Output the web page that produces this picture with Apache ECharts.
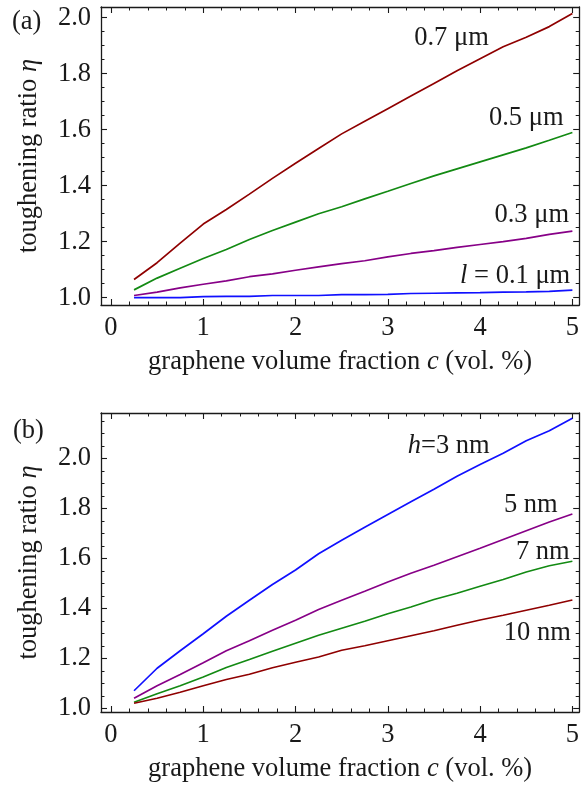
<!DOCTYPE html>
<html>
<head>
<meta charset="utf-8">
<script src="https://cdn.jsdelivr.net/npm/echarts@6/dist/echarts.min.js"></script>
<style>
html,body{margin:0;padding:0;background:#fff;}
#chart{width:582px;height:789px;}
</style>
</head>
<body>
<div id="chart"></div>
<script>
// ---------- data ----------
const cValues = [0.25, 0.5, 0.75, 1.0, 1.25, 1.5, 1.75, 2.0, 2.25, 2.5, 2.75, 3.0, 3.25, 3.5, 3.75, 4.0, 4.25, 4.5, 4.75, 5.0];

// panel (a): different platelet length l
const etaL07 = [1.065, 1.125, 1.195, 1.263, 1.315, 1.370, 1.426, 1.480, 1.533, 1.585, 1.630, 1.675, 1.720, 1.765, 1.810, 1.853, 1.896, 1.930, 1.968, 2.015];
const etaL05 = [1.028, 1.070, 1.105, 1.140, 1.172, 1.208, 1.240, 1.270, 1.300, 1.325, 1.353, 1.380, 1.408, 1.435, 1.460, 1.485, 1.510, 1.535, 1.562, 1.590];
const etaL03 = [1.008, 1.020, 1.035, 1.048, 1.060, 1.075, 1.085, 1.098, 1.110, 1.122, 1.132, 1.146, 1.158, 1.168, 1.180, 1.190, 1.200, 1.212, 1.226, 1.238];
const etaL01 = [1.000, 1.000, 1.000, 1.004, 1.005, 1.005, 1.008, 1.008, 1.008, 1.011, 1.011, 1.012, 1.015, 1.016, 1.017, 1.018, 1.020, 1.021, 1.023, 1.027];

// panel (b): different thickness h
const etaH3  = [1.070, 1.160, 1.230, 1.298, 1.368, 1.432, 1.495, 1.553, 1.618, 1.672, 1.724, 1.775, 1.826, 1.876, 1.928, 1.975, 2.020, 2.070, 2.110, 2.160];
const etaH5  = [1.040, 1.090, 1.135, 1.182, 1.230, 1.270, 1.312, 1.352, 1.395, 1.432, 1.468, 1.505, 1.540, 1.572, 1.606, 1.640, 1.675, 1.710, 1.745, 1.777];
const etaH7  = [1.024, 1.058, 1.090, 1.125, 1.163, 1.195, 1.228, 1.260, 1.292, 1.320, 1.348, 1.378, 1.405, 1.435, 1.460, 1.488, 1.515, 1.545, 1.570, 1.588];
const etaH10 = [1.020, 1.040, 1.064, 1.090, 1.115, 1.136, 1.162, 1.184, 1.205, 1.232, 1.250, 1.270, 1.290, 1.310, 1.332, 1.353, 1.372, 1.392, 1.412, 1.433];

// tick values
const xMajorTicks = [0, 1, 2, 3, 4, 5];
const xMinorTicks = [0.2, 0.4, 0.6, 0.8, 1.2, 1.4, 1.6, 1.8, 2.2, 2.4, 2.6, 2.8, 3.2, 3.4, 3.6, 3.8, 4.2, 4.4, 4.6, 4.8];
const yMajorTicks = [1.0, 1.2, 1.4, 1.6, 1.8, 2.0];
const yMinorTicksA = [1.05, 1.1, 1.15, 1.25, 1.3, 1.35, 1.45, 1.5, 1.55, 1.65, 1.7, 1.75, 1.85, 1.9, 1.95];
const yMinorTicksB = [1.05, 1.1, 1.15, 1.25, 1.3, 1.35, 1.45, 1.5, 1.55, 1.65, 1.7, 1.75, 1.85, 1.9, 1.95, 2.05, 2.1, 2.15];

// ---------- style ----------
const FONT = '"Liberation Serif", "Times New Roman", serif';
const FS = 26.5;
const INK = '#1a1a1a';
const C_RED = '#8f0000', C_GREEN = '#138a13', C_PURPLE = '#870087', C_BLUE = '#1010ff';

function pairs(xs, ys) { return xs.map((x, i) => [x, ys[i]]); }

const lineAx = { show: true, onZero: false, lineStyle: { color: INK, width: 1.3 } };
const noLine = { show: false, onZero: false };

function xAxesFor(grid, min, max) {
  const base = { type: 'value', gridIndex: grid, min: min, max: max, splitLine: { show: false } };
  return [
    Object.assign({}, base, {
      position: 'bottom', axisLine: lineAx,
      axisTick: { show: true, inside: true, length: 6, customValues: xMajorTicks, lineStyle: { color: INK, width: 1.1 } },
      axisLabel: { show: true, customValues: xMajorTicks, margin: 10, fontFamily: FONT, fontSize: FS, color: INK, formatter: v => String(Math.round(v)) },
      name: 'graphene volume fraction {i|c} (vol. %)', nameLocation: 'middle', nameGap: 44,
      nameTextStyle: { fontFamily: FONT, fontSize: FS, color: INK, rich: { i: { fontFamily: FONT, fontSize: FS, fontStyle: 'italic', color: INK } } }
    }),
    Object.assign({}, base, {
      position: 'bottom', axisLine: noLine,
      axisTick: { show: true, inside: true, length: 3.5, customValues: xMinorTicks, lineStyle: { color: INK, width: 1 } },
      axisLabel: { show: false }
    }),
    Object.assign({}, base, {
      position: 'top', axisLine: lineAx,
      axisTick: { show: true, inside: true, length: 6, customValues: xMajorTicks, lineStyle: { color: INK, width: 1.1 } },
      axisLabel: { show: false }
    }),
    Object.assign({}, base, {
      position: 'top', axisLine: noLine,
      axisTick: { show: true, inside: true, length: 3.5, customValues: xMinorTicks, lineStyle: { color: INK, width: 1 } },
      axisLabel: { show: false }
    })
  ];
}

function yAxesFor(grid, min, max, minor) {
  const base = { type: 'value', gridIndex: grid, min: min, max: max, splitLine: { show: false } };
  return [
    Object.assign({}, base, {
      position: 'left', axisLine: lineAx,
      axisTick: { show: true, inside: true, length: 6, customValues: yMajorTicks, lineStyle: { color: INK, width: 1.1 } },
      axisLabel: { show: true, customValues: yMajorTicks, margin: 10, fontFamily: FONT, fontSize: FS, color: INK, formatter: v => v.toFixed(1) },
      name: 'toughening ratio {i|η}', nameLocation: 'middle', nameRotate: 90, nameGap: 58,
      nameTextStyle: { fontFamily: FONT, fontSize: FS, color: INK, rich: { i: { fontFamily: FONT, fontSize: FS, fontStyle: 'italic', color: INK } } }
    }),
    Object.assign({}, base, {
      position: 'left', axisLine: noLine,
      axisTick: { show: true, inside: true, length: 3.5, customValues: minor, lineStyle: { color: INK, width: 1 } },
      axisLabel: { show: false }
    }),
    Object.assign({}, base, {
      position: 'right', axisLine: lineAx,
      axisTick: { show: true, inside: true, length: 6, customValues: yMajorTicks, lineStyle: { color: INK, width: 1.1 } },
      axisLabel: { show: false }
    }),
    Object.assign({}, base, {
      position: 'right', axisLine: noLine,
      axisTick: { show: true, inside: true, length: 3.5, customValues: minor, lineStyle: { color: INK, width: 1 } },
      axisLabel: { show: false }
    })
  ];
}

const labelStyle = {
  show: true, position: 'inside', color: INK, fontFamily: FONT, fontSize: FS,
  rich: { i: { fontFamily: FONT, fontSize: FS, fontStyle: 'italic', color: INK } }
};

function lineSeries(axisIdx, ys, color, label, coord) {
  return {
    type: 'line', xAxisIndex: axisIdx, yAxisIndex: axisIdx,
    data: pairs(cValues, ys), symbol: 'none', showSymbol: false, smooth: false,
    lineStyle: { color: color, width: 1.7 }, itemStyle: { color: color },
    animation: false, silent: true,
    markPoint: {
      symbol: 'circle', symbolSize: 0, silent: true, animation: false,
      itemStyle: { color: 'rgba(0,0,0,0)' },
      label: Object.assign({}, labelStyle, { formatter: label }),
      data: [{ coord: coord }]
    }
  };
}

const X_MIN = -0.108, X_MAX = 5.074;

const option = {
  backgroundColor: '#fff',
  animation: false,
  title: [
    { text: '(a)', left: 7, top: 4, textStyle: { fontFamily: FONT, fontSize: FS, fontWeight: 'normal', color: INK } },
    { text: '(b)', left: 8, top: 413, textStyle: { fontFamily: FONT, fontSize: FS, fontWeight: 'normal', color: INK } }
  ],
  grid: [
    { left: 101, top: 7, width: 479, height: 298 },
    { left: 101, top: 413, width: 479, height: 299 }
  ],
  xAxis: [].concat(xAxesFor(0, X_MIN, X_MAX), xAxesFor(1, X_MIN, X_MAX)),
  yAxis: [].concat(yAxesFor(0, 0.974, 2.038, yMinorTicksA), yAxesFor(1, 0.985, 2.181, yMinorTicksB)),
  series: [
    lineSeries(0, etaL07, C_RED, '0.7 μm', [3.69, 1.927]),
    lineSeries(0, etaL05, C_GREEN, '0.5 μm', [4.50, 1.642]),
    lineSeries(0, etaL03, C_PURPLE, '0.3 μm', [4.56, 1.295]),
    lineSeries(0, etaL01, C_BLUE, '{i|l} = 0.1 μm', [4.38, 1.077]),
    lineSeries(4, etaH3, C_BLUE, '{i|h}=3 nm', [3.66, 2.049]),
    lineSeries(4, etaH5, C_PURPLE, '5 nm', [4.55, 1.813]),
    lineSeries(4, etaH7, C_GREEN, '7 nm', [4.68, 1.625]),
    lineSeries(4, etaH10, C_RED, '10 nm', [4.62, 1.301])
  ]
};

const chart = echarts.init(document.getElementById('chart'), null, { renderer: 'canvas' });
chart.setOption(option);
</script>
</body>
</html>
